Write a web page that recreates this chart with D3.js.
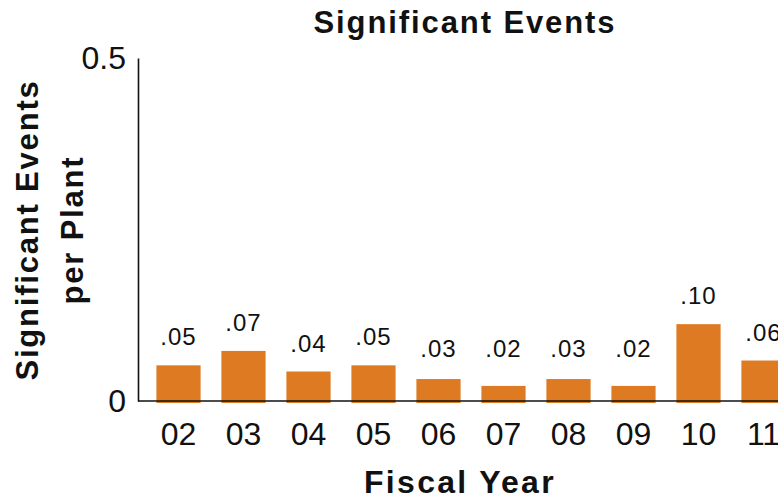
<!DOCTYPE html>
<html>
<head>
<meta charset="utf-8">
<script src="https://cdn.jsdelivr.net/npm/d3@7"></script>
<style>
  body { margin: 0; background: #fff; }
  svg text { font-family: "Liberation Sans", Arial, Helvetica, sans-serif; fill: #111; }
</style>
</head>
<body>
<svg id="chart" width="778" height="499"></svg>
<script>
// chart data
var years = ["02", "03", "04", "05", "06", "07", "08", "09", "10", "11"];
var events = [0.052, 0.073, 0.043, 0.052, 0.032, 0.022, 0.032, 0.022, 0.112, 0.059];
var valueLabels = [".05", ".07", ".04", ".05", ".03", ".02", ".03", ".02", ".10", ".06"];
var yTicks = [0, 0.5];
var yTickLabels = ["0", "0.5"];

var svg = d3.select("#chart");
var width = 778, height = 499;
var barColor = "#de7b22";

var x = d3.scaleBand()
  .domain(years)
  .range([146, 796])
  .paddingInner(0.32)
  .paddingOuter(0.16);

var y = d3.scaleLinear()
  .domain([0, 0.5])
  .range([401, 58]);

// title
svg.append("text")
  .attr("x", 465)
  .attr("y", 33)
  .attr("text-anchor", "middle")
  .style("font-size", "31px")
  .style("font-weight", "bold")
  .style("letter-spacing", "1.9px")
  .text("Significant Events");

// bars
svg.append("g").selectAll("rect")
  .data(events)
  .enter()
  .append("rect")
  .attr("x", function(d, i) { return x(years[i]); })
  .attr("y", function(d) { return y(d); })
  .attr("width", x.bandwidth())
  .attr("height", function(d) { return y(0) - y(d) + 2; })
  .attr("fill", barColor);

// value labels over bars
svg.append("g").selectAll("text")
  .data(events)
  .enter()
  .append("text")
  .attr("x", function(d, i) { return x(years[i]) + x.bandwidth() / 2; })
  .attr("y", function(d) { return Math.min(y(d) - 20, 357); })
  .attr("text-anchor", "middle")
  .style("font-size", "24px")
  .style("letter-spacing", "1px")
  .text(function(d, i) { return valueLabels[i]; });

// y axis
var yAxis = d3.axisLeft(y)
  .tickValues(yTicks)
  .tickSize(0)
  .tickPadding(12)
  .tickFormat(function(d, i) { return yTickLabels[i]; });

var gy = svg.append("g")
  .attr("transform", "translate(138,0)")
  .call(yAxis);
gy.select(".domain").attr("stroke", "#111").attr("stroke-width", 1.6);
gy.selectAll("text")
  .style("font-size", "32px")
  .attr("fill", "#111")
  .style("font-family", "'Liberation Sans', Arial, sans-serif");

// x axis
var xAxis = d3.axisBottom(x).tickSize(0).tickPadding(21);
var gx = svg.append("g")
  .attr("transform", "translate(0,401)")
  .call(xAxis);
gx.select(".domain").remove();
gx.append("line")
  .attr("x1", 138).attr("x2", width)
  .attr("y1", 0).attr("y2", 0)
  .attr("stroke", "#111").attr("stroke-width", 1.6);
gx.selectAll(".tick text")
  .style("font-size", "32px")
  .attr("fill", "#111")
  .style("font-family", "'Liberation Sans', Arial, sans-serif");

// x title
svg.append("text")
  .attr("x", 460)
  .attr("y", 493)
  .attr("text-anchor", "middle")
  .style("font-size", "32px")
  .style("font-weight", "bold")
  .style("letter-spacing", "2.3px")
  .text("Fiscal Year");

// y title, two lines
var yTitle = svg.append("text")
  .attr("transform", "translate(38,230) rotate(-90)")
  .attr("text-anchor", "middle")
  .style("font-size", "31px")
  .style("font-weight", "bold")
  .style("letter-spacing", "1.8px");
yTitle.append("tspan").attr("x", 0).attr("y", 0).text("Significant Events");
yTitle.append("tspan").attr("x", 0).attr("y", 45).text("per Plant");
</script>
</body>
</html>
